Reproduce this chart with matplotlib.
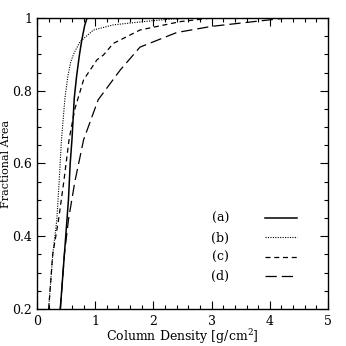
import matplotlib
matplotlib.use("Agg")
import matplotlib.pyplot as plt
from matplotlib.ticker import MultipleLocator, FuncFormatter

plt.rcParams['font.family'] = ['DejaVu Serif']

# Curve (a): solid
a_x = [0.40, 0.47, 0.54, 0.57, 0.60, 0.64, 0.68, 0.73, 0.77, 0.82, 0.86, 5.0]
a_y = [0.20, 0.35, 0.50, 0.60, 0.665, 0.78, 0.84, 0.90, 0.94, 0.98, 1.0, 1.0]
# Curve (b): dotted
b_x = [0.20, 0.27, 0.34, 0.38, 0.42, 0.48, 0.53, 0.58, 0.64, 0.74, 0.97, 1.31, 1.82, 2.3, 2.7, 5.0]
b_y = [0.20, 0.35, 0.445, 0.55, 0.665, 0.78, 0.84, 0.88, 0.905, 0.935, 0.967, 0.981, 0.99, 0.997, 1.0, 1.0]
# Curve (c): dashed
c_x = [0.20, 0.27, 0.37, 0.46, 0.55, 0.65, 0.80, 1.03, 1.14, 1.31, 1.77, 2.46, 3.0, 5.0]
c_y = [0.20, 0.35, 0.445, 0.55, 0.665, 0.75, 0.83, 0.885, 0.898, 0.93, 0.967, 0.99, 1.0, 1.0]
# Curve (d): long dashed
d_x = [0.40, 0.47, 0.54, 0.65, 0.80, 1.05, 1.43, 1.77, 2.4, 3.0, 4.0, 4.3, 5.0]
d_y = [0.20, 0.35, 0.445, 0.55, 0.665, 0.775, 0.857, 0.92, 0.96, 0.977, 0.995, 1.0, 1.0]

labels = ["(a)", "(b)", "(c)", "(d)"]
x_ticks = [0, 1, 2, 3, 4, 5]
y_ticks = [0.2, 0.4, 0.6, 0.8, 1.0]

fig = plt.figure(figsize=(3.46, 3.46), dpi=100)
ax = fig.add_axes([0.107, 0.107, 0.841, 0.841])

lw = 0.9
ax.plot(a_x, a_y, color='black', lw=1.1, ls='-', label=labels[0])
ax.plot(b_x, b_y, color='black', lw=0.8, ls=(0, (1, 1.2)), label=labels[1])
ax.plot(c_x, c_y, color='black', lw=lw, ls=(0, (4, 3)), label=labels[2])
ax.plot(d_x, d_y, color='black', lw=lw, ls=(0, (9, 4)), label=labels[3])

ax.set_xlim(0, 5)
ax.set_ylim(0.2, 1.0)
ax.set_xticks(x_ticks)
ax.set_yticks(y_ticks)
ax.xaxis.set_minor_locator(MultipleLocator(0.2))
ax.yaxis.set_minor_locator(MultipleLocator(0.05))
ax.yaxis.set_major_formatter(FuncFormatter(lambda v, p: "1" if abs(v - 1) < 1e-9 else f"{v:.1f}"))
ax.tick_params(which='both', direction='in', top=True, right=True, labelsize=9, width=0.8)
ax.tick_params(which='major', length=6)
ax.tick_params(which='minor', length=3)
ax.tick_params(axis='x', pad=4)
for s in ax.spines.values():
    s.set_linewidth(1.0)

ax.set_xlabel("Column Density [g/cm$^\\mathregular{2}$]", fontsize=9, labelpad=0)
ax.set_ylabel("Fractional Area", fontsize=8)
ax.yaxis.set_label_coords(-0.088, 0.5)

leg = ax.legend(loc='lower left', bbox_to_anchor=(0.56, 0.05), frameon=False,
                markerfirst=False, fontsize=9, handlelength=2.5, handletextpad=2.9,
                labelspacing=0.5)

fig.savefig("out.png", dpi=100)
